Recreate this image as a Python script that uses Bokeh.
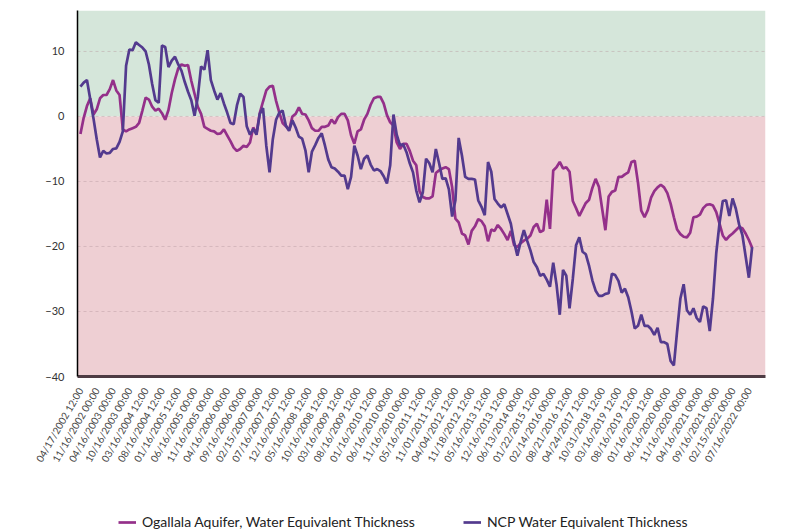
import math
from bokeh.plotting import figure
from bokeh.layouts import column
from bokeh.models import (Range1d, FixedTicker, BoxAnnotation, Span, Legend,
                          LegendItem, ColumnDataSource)
from bokeh.embed import file_html
from bokeh.resources import INLINE

# ---------------- data ----------------
tick_labels = [
    "04/17/2002 12:00", "11/16/2002 00:00", "04/16/2003 00:00", "10/16/2003 00:00",
    "03/16/2004 12:00", "08/16/2004 12:00", "01/16/2005 12:00", "06/16/2005 00:00",
    "11/16/2005 00:00", "04/16/2006 00:00", "09/16/2006 00:00", "02/15/2007 00:00",
    "07/16/2007 12:00", "12/16/2007 12:00", "05/16/2008 12:00", "10/16/2008 12:00",
    "03/16/2009 12:00", "08/16/2009 12:00", "01/16/2010 12:00", "06/16/2010 00:00",
    "11/16/2010 00:00", "05/16/2011 12:00", "11/01/2011 12:00", "04/04/2012 12:00",
    "11/18/2012 12:00", "05/16/2013 12:00", "12/16/2013 12:00", "06/13/2014 00:00",
    "01/22/2015 12:00", "02/14/2016 00:00", "08/21/2016 12:00", "04/24/2017 12:00",
    "10/31/2018 12:00", "03/16/2019 12:00", "08/16/2019 12:00", "01/16/2020 12:00",
    "06/16/2020 00:00", "11/16/2020 00:00", "04/16/2021 00:00", "09/16/2021 00:00",
    "02/15/2022 00:00", "07/16/2022 00:00",
]
label_step = 5

ogallala = [
    -2.7, -0.2, 1.6, 2.8, 0.3, 1.1, 2.8, 3.3, 3.3, 4.2,
    5.6, 4.0, 3.3, -2.0, -2.3, -2.0, -1.8, -1.6, -1.0, 0.9,
    2.9, 2.6, 1.5, 0.9, 1.2, 0.5, -0.5, 1.0, 3.6, 5.7,
    7.4, 8.0, 7.8, 7.9, 5.5, 3.5, 1.5, 0.4, -1.6, -1.9,
    -2.2, -2.3, -2.7, -2.6, -2.0, -2.9, -3.8, -4.8, -5.3, -5.0,
    -4.5, -4.7, -4.0, -1.7, -2.6, 0.5, 2.3, 4.0, 4.6, 4.7,
    2.4, 0.6, -1.0, -1.5, -2.1, 0.0, 0.4, 1.4, 0.4, 0.3,
    -0.6, -1.8, -2.2, -2.2, -1.6, -1.6, -1.4, -0.5, -1.1, -0.1,
    0.4, 0.4, -0.6, -2.9, -4.2, -2.3, -2.0, -0.5, 0.4, 1.8,
    2.8, 3.0, 3.0, 2.0, 0.2, -0.9, -1.4, -4.0, -5.0, -4.2,
    -4.2, -5.3, -6.8, -7.5, -11.5, -12.4, -12.6, -12.6, -12.3, -8.7,
    -8.3, -8.0, -7.8, -8.1, -10.9, -15.7, -16.3, -18.0, -18.3, -19.7,
    -17.6, -16.9, -15.8, -16.1, -16.9, -19.2, -17.4, -17.6, -16.7, -17.3,
    -18.1, -19.0, -17.6, -19.8, -20.1, -19.5, -19.1, -18.8, -18.3, -17.0,
    -16.5, -17.8, -17.5, -12.8, -17.3, -8.3, -7.8, -7.0, -8.0, -7.8,
    -8.5, -13.0, -14.1, -15.3, -14.3, -13.3, -12.8, -11.0, -9.6, -10.8,
    -14.2, -17.5, -12.3, -11.6, -11.4, -9.3, -9.3, -8.9, -8.6, -7.0,
    -6.8, -10.2, -14.5, -15.5, -14.4, -12.5, -11.5, -10.9, -10.5, -10.9,
    -11.8, -13.4, -15.5, -17.4, -18.1, -18.5, -18.6, -17.9, -15.5, -15.4,
    -15.1, -14.1, -13.6, -13.5, -13.7, -14.7, -16.5, -18.3, -19.0, -18.4,
    -18.0, -17.5, -17.0, -17.2, -18.0, -19.0, -20.2,
]

ncp = [
    4.6, 5.2, 5.6, 2.7, -0.3, -3.5, -6.3, -5.3, -5.7, -5.6,
    -5.0, -4.9, -3.9, -2.3, 7.8, 10.3, 10.2, 11.4, 11.0, 10.6,
    10.0, 8.0, 5.0, 2.5, 2.1, 10.9, 10.7, 7.6, 8.6, 9.2,
    8.0, 7.0, 5.3, 3.8, 2.5, 0.1, 3.0, 7.7, 7.2, 10.2,
    5.6, 4.0, 2.6, 3.6, 2.0, 0.6, -1.0, -1.2, 1.7, 3.5,
    3.0, -1.5, -2.8, -1.9, -2.8, 0.4, 1.3, -4.5, -8.6, -3.5,
    -0.5, 0.6, 0.9, -1.4, -2.2, -0.6, -1.7, -3.1, -3.4, -5.2,
    -8.6, -5.4, -4.4, -3.3, -2.6, -4.5, -6.6, -7.8, -8.0, -8.5,
    -9.1, -9.1, -11.2, -9.3, -4.5, -6.0, -8.1, -6.5, -6.0, -7.4,
    -8.3, -8.1, -8.4, -9.2, -10.3, -7.5, 0.3, -2.8, -4.4, -4.3,
    -5.5, -7.2, -8.6, -11.4, -13.2, -11.7, -6.5, -7.2, -8.6, -5.0,
    -7.2, -9.6, -9.5, -11.2, -15.4, -12.9, -3.3, -6.0, -9.3, -9.6,
    -9.6, -9.7, -12.9, -13.9, -15.2, -7.0, -8.5, -12.7, -13.4, -14.0,
    -13.5, -15.0, -16.5, -19.3, -21.4, -19.3, -17.5, -19.1, -20.6, -22.4,
    -23.2, -24.5, -24.2, -25.1, -26.2, -22.5, -25.8, -30.5, -23.6, -24.5,
    -29.5, -25.0, -19.8, -18.6, -20.8, -21.2, -23.0, -25.2, -26.8, -27.6,
    -27.6, -27.3, -27.2, -24.2, -24.4, -25.3, -27.1, -26.5, -27.8, -30.0,
    -32.6, -32.2, -30.5, -32.2, -32.2, -32.7, -33.6, -32.5, -34.7, -34.7,
    -35.0, -37.6, -38.3, -33.0, -28.0, -25.8, -29.8, -30.5, -29.5, -31.0,
    -31.6, -29.2, -29.5, -33.0, -28.0, -21.0, -16.4, -13.0, -12.9, -15.3,
    -12.6, -14.2, -16.6, -18.2, -21.5, -24.8, -20.1,
]

y_ticks = [-40, -30, -20, -10, 0, 10]
series_names = ["Ogallala Aquifer, Water Equivalent Thickness",
                "NCP Water Equivalent Thickness"]
series_colors = ["#94308a", "#533a8e"]

# ---------------- main figure ----------------
idx = list(range(len(ncp)))
source = ColumnDataSource(dict(x=idx, ogallala=ogallala, ncp=ncp))

p = figure(width=800, height=500, output_backend="svg", toolbar_location=None,
           x_range=Range1d(-0.9, 210.1), y_range=Range1d(-40, 16.3),
           min_border_left=77, min_border_right=35, min_border_top=10,
           min_border_bottom=124)
p.outline_line_color = None
p.background_fill_color = "white"
p.xgrid.visible = False
p.ygrid.visible = False

p.add_layout(BoxAnnotation(bottom=0, fill_color="#d5e6da", fill_alpha=1.0,
                           line_color=None, level="underlay"))
p.add_layout(BoxAnnotation(top=0, fill_color="#eecfd3", fill_alpha=1.0,
                           line_color=None, level="underlay"))
for t in y_ticks[1:]:
    p.add_layout(Span(location=t, dimension="width", line_color="#b99aa0",
                      line_alpha=0.45, line_width=1, line_dash="3 3",
                      level="underlay"))

r1 = p.line("x", "ogallala", source=source, line_color=series_colors[0], line_width=2.7)
r2 = p.line("x", "ncp", source=source, line_color=series_colors[1], line_width=2.7)

# y axis
p.yaxis.ticker = FixedTicker(ticks=y_ticks)
p.yaxis.axis_line_color = "black"
p.yaxis.axis_line_width = 1.5
p.yaxis.major_tick_line_color = None
p.yaxis.minor_tick_line_color = None
p.yaxis.major_label_text_font = "Lato"
p.yaxis.major_label_text_font_size = "11px"
p.yaxis.major_label_text_color = "#333333"
p.yaxis.major_label_standoff = 7

# x axis
tick_pos = [i * label_step for i in range(len(tick_labels))]
p.xaxis.ticker = FixedTicker(ticks=tick_pos)
p.xaxis.major_label_overrides = {tp: lab for tp, lab in zip(tick_pos, tick_labels)}
p.xaxis.major_label_orientation = math.radians(60)
p.xaxis.axis_line_color = "#4e3c44"
p.xaxis.axis_line_width = 3
p.xaxis.major_tick_line_color = None
p.xaxis.minor_tick_line_color = None
p.xaxis.major_label_text_font = "Lato"
p.xaxis.major_label_text_font_size = "10px"
p.xaxis.major_label_text_color = "#444444"
p.xaxis.major_label_standoff = 6

# ---------------- legend strip (frame aligned with main plot) ----------------
lg = figure(width=800, height=30, output_backend="svg", toolbar_location=None,
            x_range=Range1d(0, 1), y_range=Range1d(1000, 1001),
            min_border_left=0, min_border_right=0, min_border_top=0,
            min_border_bottom=0)
lg.axis.visible = False
lg.grid.visible = False
lg.outline_line_color = None
# proxies carrying the series (their data lie outside this strip's ranges)
d1 = lg.line("x", "ogallala", source=source, line_color=series_colors[0], line_width=2.7)
d2 = lg.line("x", "ncp", source=source, line_color=series_colors[1], line_width=2.7)
legend = Legend(items=[LegendItem(label=series_names[0], renderers=[d1]),
                       LegendItem(label=series_names[1], renderers=[d2])],
                orientation="horizontal", location=(41, 0),
                label_text_font="Lato", label_text_font_size="14px",
                label_text_color="#222222", glyph_width=18, glyph_height=14,
                label_standoff=6, spacing=48, padding=0, margin=0,
                border_line_color=None, background_fill_alpha=0)
lg.add_layout(legend)

open("out.html", "w").write(file_html(column(p, lg, spacing=0), INLINE))
